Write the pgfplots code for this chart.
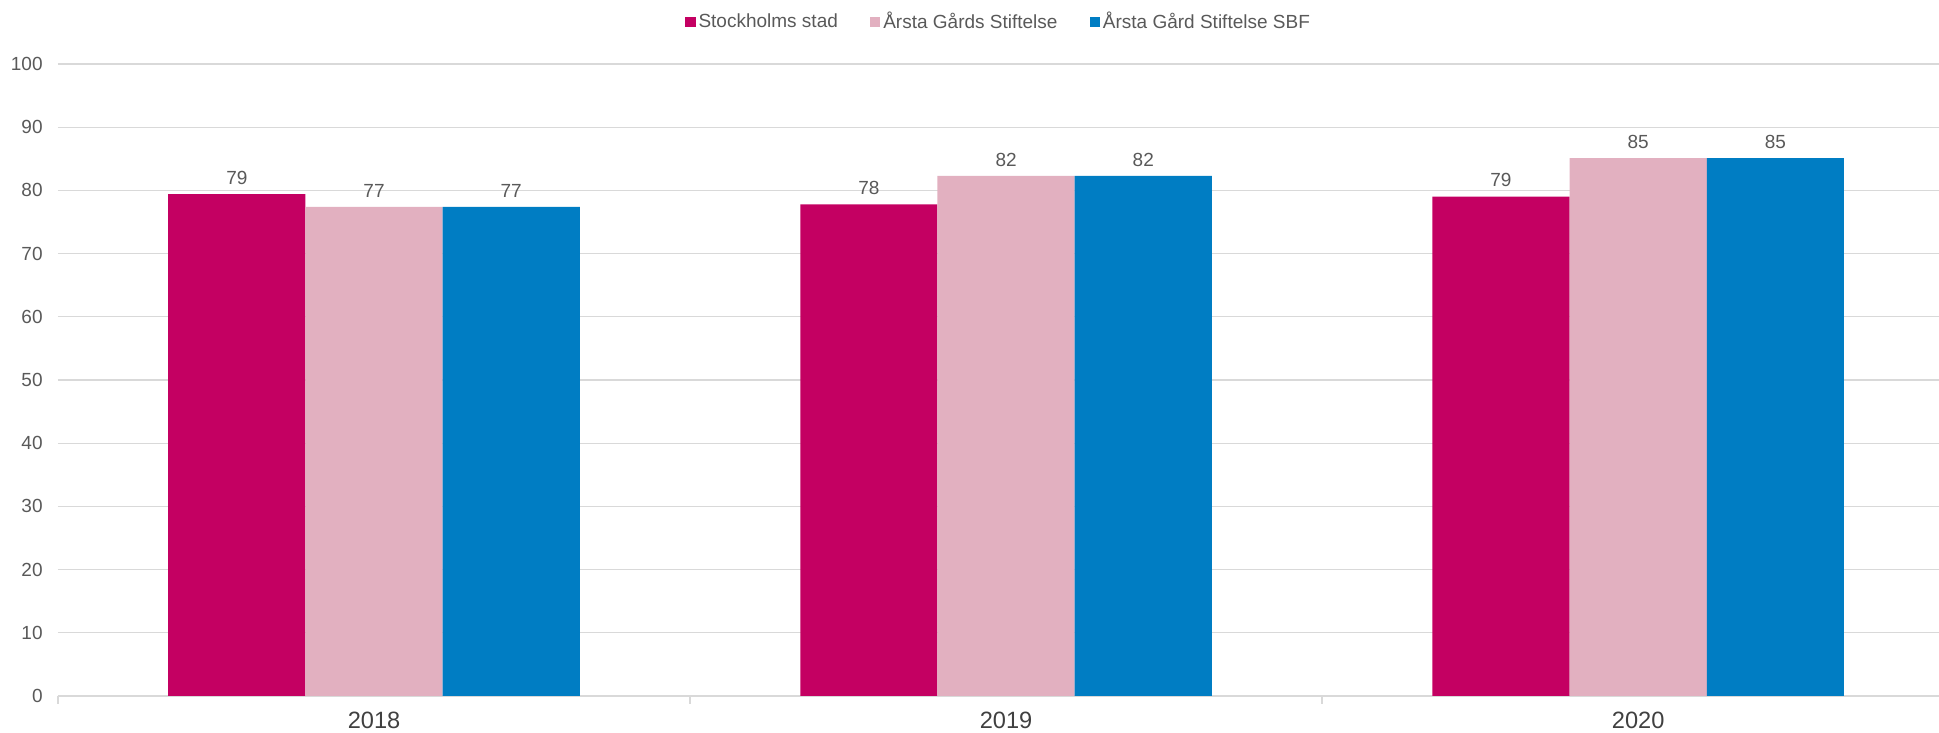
\documentclass[border=0pt]{standalone}
\usepackage{pgfplots}
\pgfplotsset{compat=1.18}
\usepackage{fontspec}
\setmainfont{Liberation Sans}
\definecolor{cSth}{HTML}{C40062}
\definecolor{cPink}{HTML}{E2B0C0}
\definecolor{cBlue}{HTML}{007DC3}
\definecolor{cTxt}{HTML}{595959}
\definecolor{cLab}{HTML}{404040}
\definecolor{cGrid}{HTML}{D9D9D9}
\begin{document}
\begin{tikzpicture}
\useasboundingbox (-29pt,-18.5pt) rectangle (940.5pt,348pt);
\begin{axis}[
  scale only axis, width=940.5pt, height=316pt,
  xmin=-0.5, xmax=2.476, ymin=0, ymax=100,
  enlargelimits=false,
  /pgf/number format/assume math mode=true,
  ybar=0pt, bar width=68.6pt,
  axis x line*=bottom, axis y line*=left,
  y axis line style={draw=none},
  x axis line style={draw=cGrid, line width=1pt},
  ytick={0,10,...,100},
  ymajorgrids, grid style={draw=cGrid, line width=0.6pt},
  xtick={0,1,2}, xticklabels={2018,2019,2020},
  extra x ticks={-0.5,0.5,1.5}, extra x tick labels={},
  extra x tick style={major tick length=4pt, tick align=outside, xmajorgrids=false,
     major tick style={draw=cGrid, line width=0.8pt}},
  major tick length=0pt,
  yticklabel style={font=\fontsize{9.5}{11}\selectfont, text=cTxt, inner sep=0pt, anchor=east, xshift=-7.5pt},
  xticklabel style={font=\fontsize{11.8}{13}\selectfont, text=cLab, inner sep=0pt, anchor=north, yshift=-8pt},
  nodes near coords={\pgfmathprintnumber[fixed,precision=0]{\pgfplotspointmeta}},
  every node near coord/.append style={font=\fontsize{9.5}{11}\selectfont, text=cTxt, inner sep=0pt, anchor=south, yshift=4.6pt},
  legend style={at={(rel axis cs:0.5,1.0665)}, anchor=center, draw=none, fill=none,
     font=\fontsize{9.5}{11}\selectfont, text=cTxt, legend columns=3,
     nodes={inner sep=1pt},
     /tikz/every odd column/.append style={column sep=0.5pt},
     /tikz/every even column/.append style={column sep=15pt}},
  legend image code/.code={\fill[#1] (0pt,-2.6pt) rectangle (5.2pt,2.6pt);},
]
\addplot[fill=cSth, draw=none] coordinates {(0,79.4) (1,77.8) (2,79.0)};
\addplot[fill=cPink, draw=none] coordinates {(0,77.4) (1,82.3) (2,85.1)};
\addplot[fill=cBlue, draw=none] coordinates {(0,77.4) (1,82.3) (2,85.1)};
\legend{Stockholms stad, Årsta Gårds Stiftelse, Årsta Gård Stiftelse SBF}
\end{axis}
\end{tikzpicture}
\end{document}
